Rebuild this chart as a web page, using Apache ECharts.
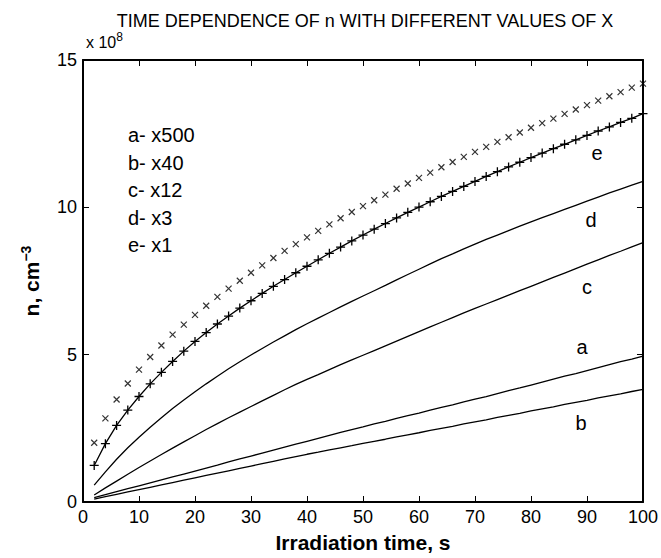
<!DOCTYPE html>
<html><head><meta charset="utf-8">
<script src="https://cdn.jsdelivr.net/npm/echarts/dist/echarts.min.js"></script>
<style>html,body{margin:0;padding:0;background:#fff}#c{width:661px;height:558px}</style>
</head><body><div id="c"></div>
<script>
// Irradiation time (s)
const timeS = [2,4,6,8,10,12,14,16,18,20,22,24,26,28,30,32,34,36,38,40,42,44,46,48,50,52,54,56,58,60,62,64,66,68,70,72,74,76,78,80,82,84,86,88,90,92,94,96,98,100];
// values in units of 10^8 cm^-3
const crossVals = [2.01,2.84,3.48,4.02,4.49,4.92,5.31,5.68,6.02,6.35,6.66,6.96,7.24,7.51,7.78,8.03,8.28,8.52,8.75,8.98,9.20,9.42,9.63,9.84,10.04,10.24,10.43,10.63,10.81,11.00,11.18,11.36,11.54,11.71,11.88,12.05,12.22,12.38,12.54,12.70,12.86,13.01,13.17,13.32,13.47,13.62,13.77,13.91,14.06,14.20];
const eVals = [1.24,1.98,2.60,3.12,3.58,4.01,4.40,4.77,5.12,5.45,5.75,6.04,6.31,6.58,6.83,7.08,7.32,7.55,7.78,8.00,8.22,8.44,8.65,8.86,9.06,9.26,9.45,9.64,9.83,10.01,10.19,10.37,10.54,10.71,10.88,11.05,11.21,11.37,11.53,11.69,11.84,11.99,12.14,12.29,12.44,12.59,12.73,12.88,13.02,13.18];
const dVals = [0.57,1.02,1.45,1.84,2.20,2.54,2.86,3.17,3.46,3.74,4.01,4.27,4.52,4.76,4.99,5.21,5.43,5.64,5.85,6.05,6.24,6.43,6.62,6.81,6.99,7.17,7.35,7.54,7.72,7.90,8.08,8.26,8.42,8.59,8.75,8.91,9.06,9.21,9.36,9.51,9.65,9.79,9.93,10.07,10.21,10.35,10.49,10.62,10.75,10.88];
const cVals = [0.24,0.48,0.71,0.94,1.17,1.39,1.61,1.83,2.04,2.25,2.46,2.66,2.86,3.05,3.24,3.43,3.62,3.81,3.99,4.16,4.32,4.49,4.66,4.82,4.98,5.14,5.30,5.46,5.62,5.78,5.94,6.10,6.26,6.42,6.57,6.72,6.87,7.02,7.17,7.32,7.47,7.62,7.77,7.92,8.07,8.22,8.37,8.51,8.66,8.80];
const aVals = [0.15,0.25,0.35,0.45,0.55,0.65,0.75,0.85,0.95,1.05,1.15,1.25,1.36,1.46,1.56,1.66,1.76,1.86,1.96,2.06,2.16,2.26,2.36,2.46,2.55,2.65,2.74,2.84,2.93,3.02,3.12,3.21,3.30,3.40,3.49,3.58,3.68,3.78,3.87,3.97,4.07,4.17,4.27,4.36,4.46,4.56,4.66,4.76,4.85,4.95];
const bVals = [0.10,0.18,0.26,0.34,0.42,0.50,0.58,0.66,0.74,0.82,0.90,0.98,1.06,1.14,1.22,1.30,1.38,1.46,1.54,1.62,1.69,1.77,1.84,1.91,1.99,2.06,2.13,2.21,2.28,2.35,2.43,2.50,2.57,2.65,2.72,2.79,2.87,2.94,3.01,3.09,3.16,3.23,3.31,3.38,3.45,3.53,3.60,3.67,3.75,3.82];
const legendLines = ['a- x500','b- x40','c- x12','d- x3','e- x1'];
const curveLabels = ['e','d','c','a','b'];

const FONT = 'Liberation Sans, Arial, Helvetica, sans-serif';
const pairs = v => timeS.map((t,i)=>[t, v[i]]);
const PLUS = 'path://M0,5L10,5M5,0L5,10';
const CROSS = 'path://M0,0L10,10M10,0L0,10';

const chart = echarts.init(document.getElementById('c'), null, {renderer:'svg'});
const axisCommon = {
  axisLine:{show:true, onZero:false, lineStyle:{color:'#000', width:2}},
  axisTick:{show:true, inside:true, length:6, lineStyle:{color:'#000', width:1}},
  splitLine:{show:false}
};
const lineSeries = (name, vals) => ({
  name, type:'line', data:pairs(vals), showSymbol:false, symbol:'none',
  lineStyle:{color:'#000', width:1.3}, smooth:false, silent:true
});
const curveLabelPos = [[597,153],[591,220],[587,287],[582,347],[581,423]];
const graphics = [
  {type:'text', x:365, y:21, style:{text:'TIME DEPENDENCE OF n WITH DIFFERENT VALUES OF X', fontSize:18, fontFamily:FONT, fill:'#000', textAlign:'center', textVerticalAlign:'middle'}},
  {type:'text', x:86, y:53, style:{text:'{a|x 10}{s|8}', fontFamily:FONT, fill:'#000', textVerticalAlign:'bottom',
    rich:{a:{fontSize:16, fontFamily:FONT, fill:'#000'}, s:{fontSize:12, fontFamily:FONT, fill:'#000', padding:[0,0,10,0]}}}}
];
legendLines.forEach((t,i)=>graphics.push({type:'text', x:128, y:135+i*27.5, style:{text:t, fontSize:20, fontFamily:FONT, fill:'#000', textVerticalAlign:'middle'}}));
curveLabels.forEach((t,i)=>graphics.push({type:'text', x:curveLabelPos[i][0], y:curveLabelPos[i][1], style:{text:t, fontSize:20, fontFamily:FONT, fill:'#000', textAlign:'center', textVerticalAlign:'middle'}}));

chart.setOption({
  animation:false,
  backgroundColor:'#fff',
  grid:{left:83, right:13, top:60, bottom:52, containLabel:false},
  xAxis:[
    Object.assign({type:'value', min:0, max:100, interval:10, position:'bottom',
      name:'Irradiation time, s', nameLocation:'middle', nameGap:30,
      nameTextStyle:{fontSize:21, fontWeight:'bold', fontFamily:FONT, color:'#000'},
      axisLabel:{fontSize:18, fontFamily:FONT, color:'#000', margin:6}}, axisCommon),
    Object.assign({type:'value', min:0, max:100, interval:10, position:'top', axisLabel:{show:false}}, axisCommon)
  ],
  yAxis:[
    Object.assign({type:'value', min:0, max:15, interval:5, position:'left',
      name:'{b|n, cm}{s|−3}', nameLocation:'middle', nameGap:40, nameRotate:90,
      nameTextStyle:{fontSize:21, fontWeight:'bold', fontFamily:FONT, color:'#000',
        rich:{b:{fontSize:21, fontWeight:'bold', fontFamily:FONT, color:'#000'}, s:{fontSize:14, fontWeight:'bold', fontFamily:FONT, color:'#000', padding:[0,0,10,0]}}},
      axisLabel:{fontSize:18, fontFamily:FONT, color:'#000', margin:6}}, axisCommon),
    Object.assign({type:'value', min:0, max:15, interval:5, position:'right', axisLabel:{show:false}}, axisCommon)
  ],
  series:[
    lineSeries('b', bVals),
    lineSeries('a', aVals),
    lineSeries('c', cVals),
    lineSeries('d', dVals),
    {name:'e', type:'line', data:pairs(eVals), symbol:PLUS, symbolSize:9, showSymbol:true, showAllSymbol:true,
      lineStyle:{color:'#000', width:1.3}, itemStyle:{color:'none', borderColor:'#000', borderWidth:1.3}, silent:true},
    {name:'cross', type:'scatter', data:pairs(crossVals), symbol:CROSS, symbolSize:6,
      itemStyle:{color:'none', borderColor:'#000', borderWidth:1.2}, silent:true, clip:false}
  ],
  graphic:graphics
});
</script></body></html>
